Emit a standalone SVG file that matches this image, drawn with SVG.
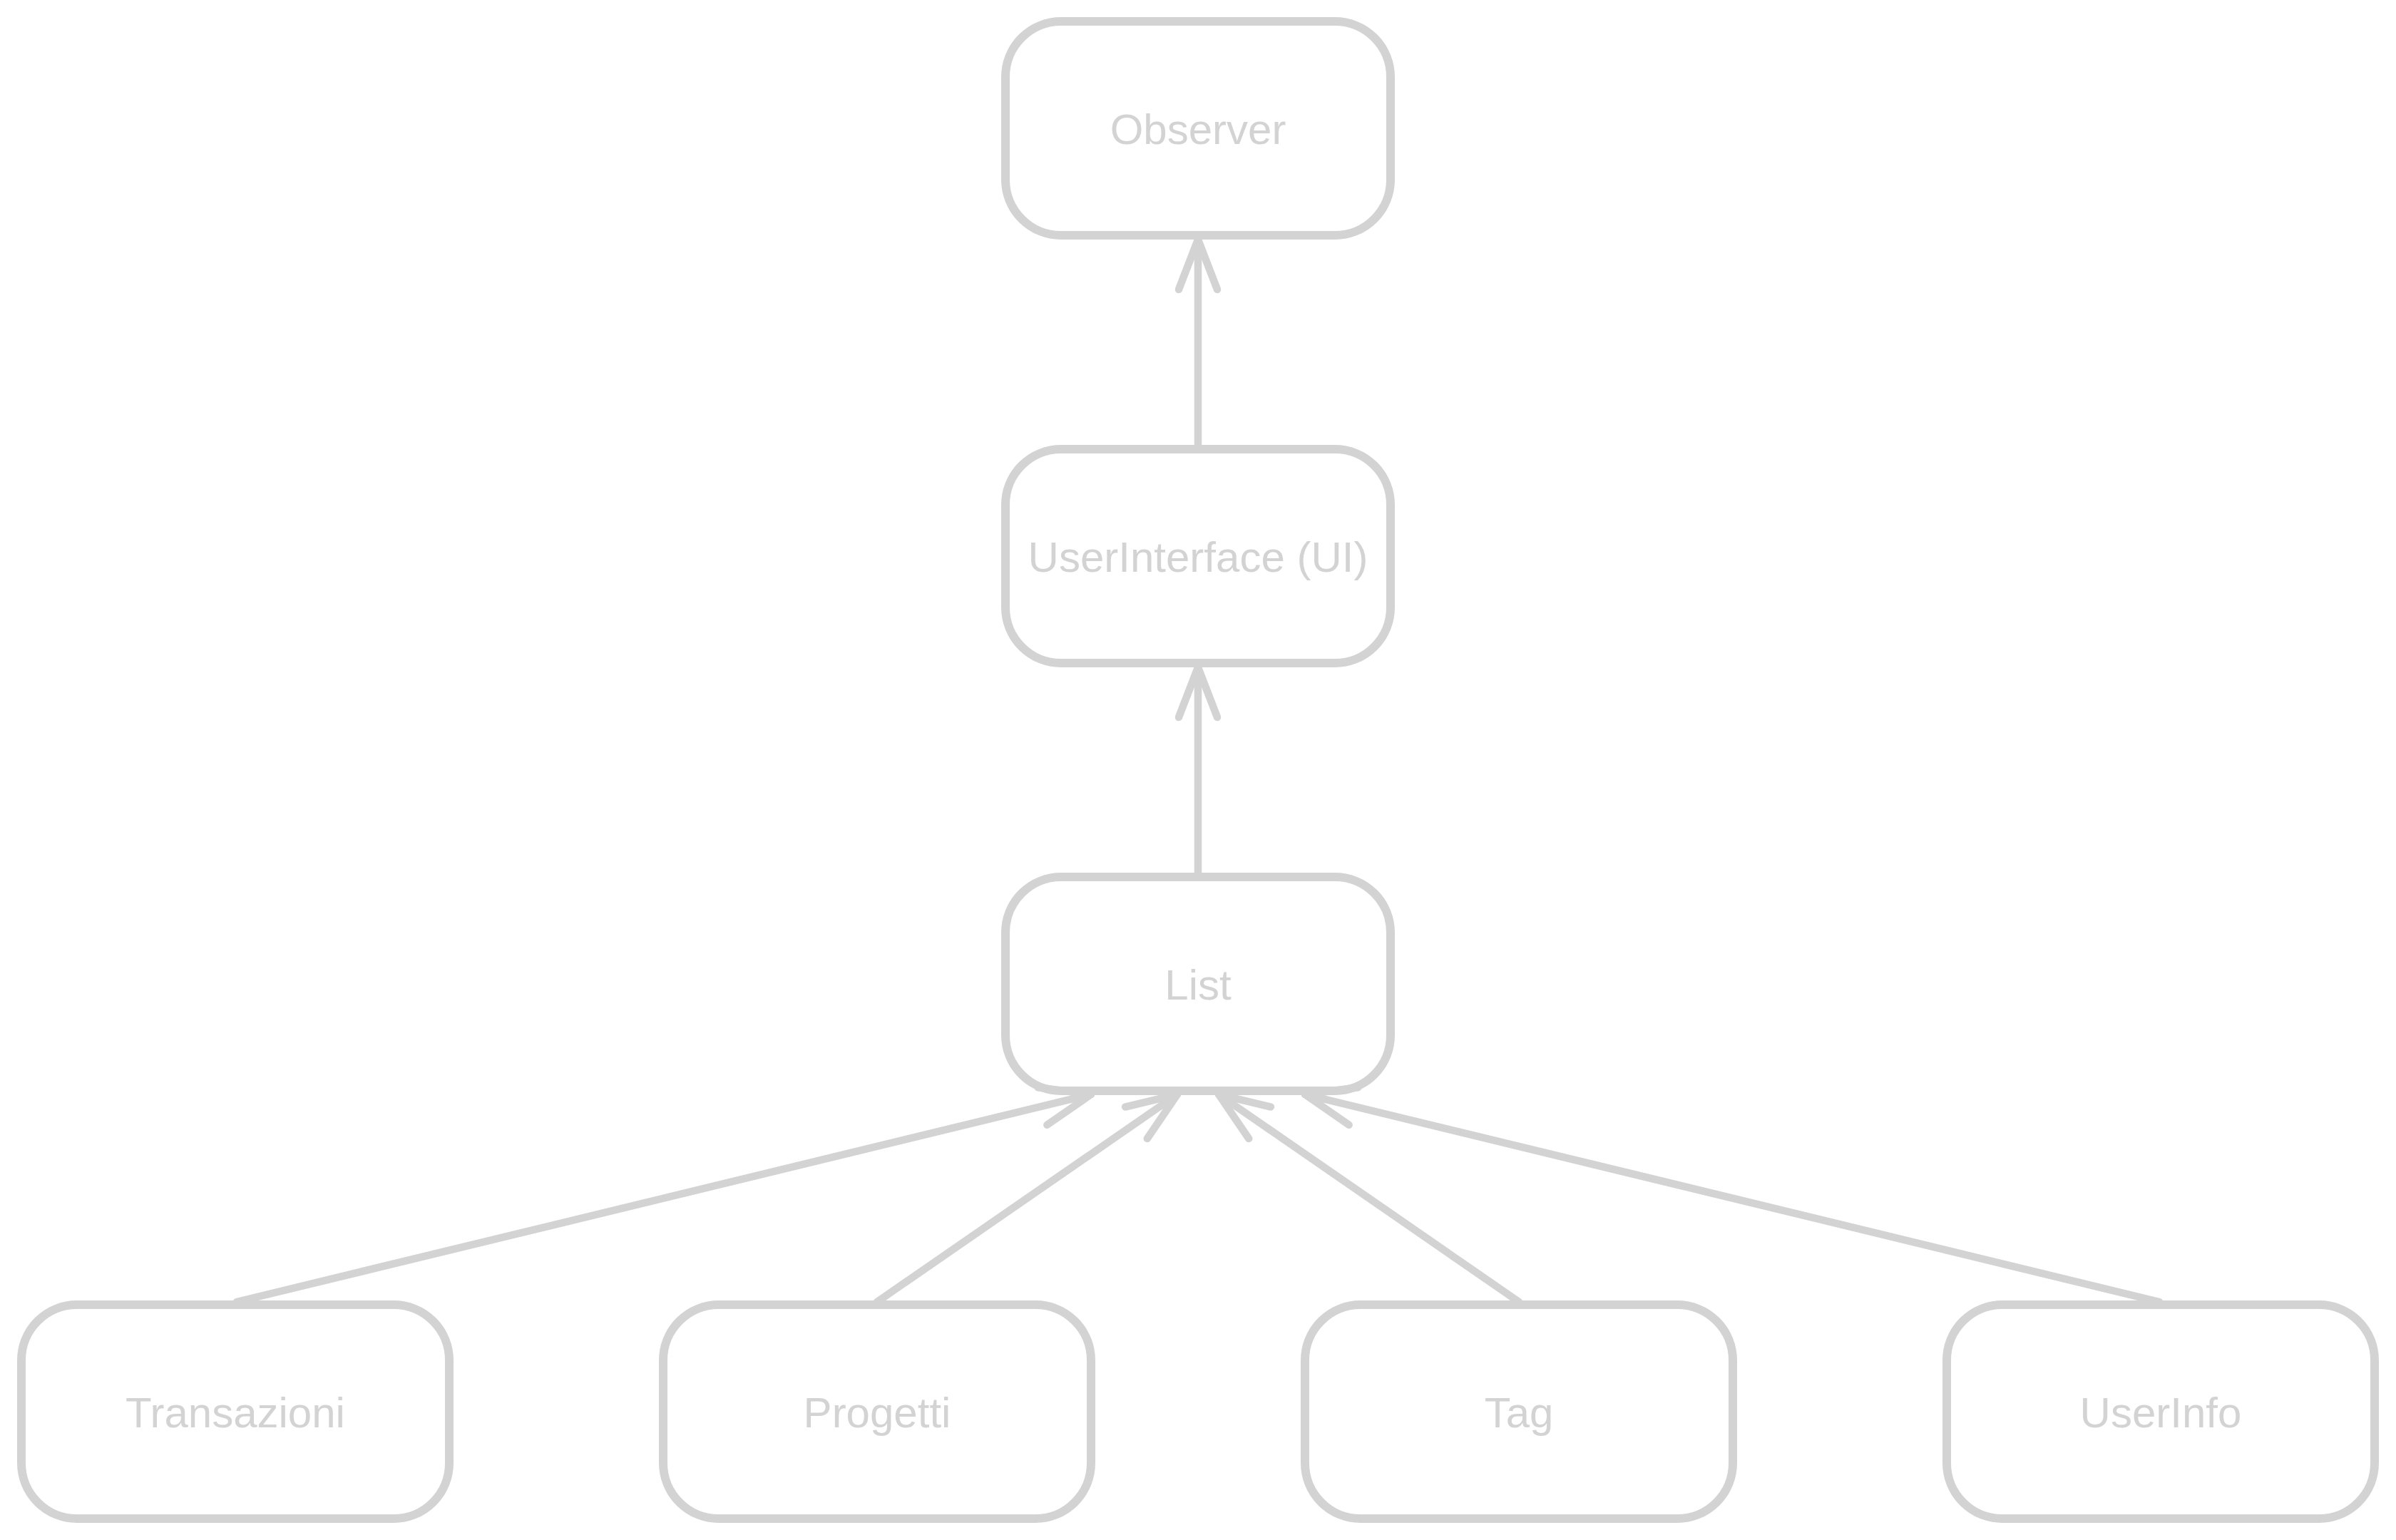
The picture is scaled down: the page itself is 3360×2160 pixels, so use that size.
<svg xmlns="http://www.w3.org/2000/svg" width="3360" height="2160" viewBox="0 0 3360 2160">
<style>
.node rect{fill:#ffffff;stroke:#d3d3d3;stroke-width:12}
.node text{fill:#d3d3d3;font-family:"Liberation Sans",Arial,Helvetica,sans-serif;font-size:60px;text-anchor:middle}
.edge{fill:none;stroke:#d3d3d3;stroke-width:10.5;stroke-linecap:round;marker-end:url(#arrow)}
</style>
<defs>
<marker id="arrow" markerUnits="userSpaceOnUse" viewBox="-100 -100 200 200" markerWidth="200" markerHeight="200" refX="0" refY="0" orient="auto" overflow="visible">
<path d="M-70,-27 L0,0 L-70,27" fill="none" stroke="#d3d3d3" stroke-width="10.5" stroke-linecap="round" stroke-linejoin="round"/>
</marker>
</defs>
<rect width="3360" height="2160" fill="#ffffff"/>
<g id="node-observer" class="node"><rect x="1410" y="30" width="540" height="300" rx="78" ry="78"/><text x="1680" y="202">Observer</text></g>
<g id="node-ui" class="node"><rect x="1410" y="630" width="540" height="300" rx="78" ry="78"/><text x="1680" y="802">UserInterface (UI)</text></g>
<g id="node-list" class="node"><rect x="1410" y="1230" width="540" height="300" rx="78" ry="78"/><text x="1680" y="1402">List</text></g>
<g id="node-transazioni" class="node"><rect x="30" y="1830" width="600" height="300" rx="78" ry="78"/><text x="330" y="2002">Transazioni</text></g>
<g id="node-progetti" class="node"><rect x="930" y="1830" width="600" height="300" rx="78" ry="78"/><text x="1230" y="2002">Progetti</text></g>
<g id="node-tag" class="node"><rect x="1830" y="1830" width="600" height="300" rx="78" ry="78"/><text x="2130" y="2002">Tag</text></g>
<g id="node-userinfo" class="node"><rect x="2730" y="1830" width="600" height="300" rx="78" ry="78"/><text x="3030" y="2002">UserInfo</text></g>
<g id="connectors">
<path class="edge" d="M1680,625 L1680,336"/>
<path class="edge" d="M1680,1225 L1680,936"/>
<path class="edge" d="M332,1826 L1530,1535"/>
<path class="edge" d="M1230,1826 L1651,1535"/>
<path class="edge" d="M2130,1826 L1709,1535"/>
<path class="edge" d="M3028,1826 L1830,1535"/>
</g>
</svg>
